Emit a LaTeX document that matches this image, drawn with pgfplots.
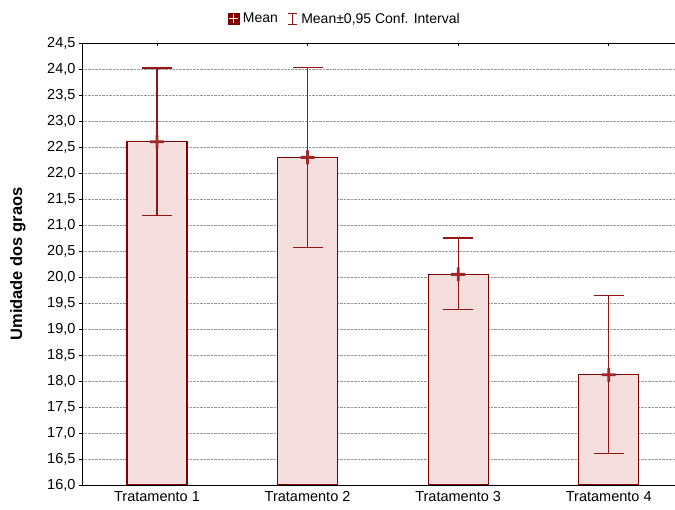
\documentclass[border=0pt]{standalone}
\usepackage{pgfplots}
\pgfplotsset{compat=1.18}
\usepackage{pgfplotstable}
\usepackage{fontspec}
\setmainfont{Liberation Sans}
\definecolor{dred}{RGB}{128,0,0}
\definecolor{ered}{RGB}{150,20,20}
\definecolor{mred}{RGB}{160,40,40}
\definecolor{bfill}{RGB}{245,222,222}
\pgfdeclareplotmark{thickplus}{%
  \pgfpathrectangle{\pgfpoint{-7pt}{-1.4pt}}{\pgfpoint{14pt}{2.8pt}}%
  \pgfpathrectangle{\pgfpoint{-1.4pt}{-7pt}}{\pgfpoint{2.8pt}{14pt}}%
  \pgfusepathqfill}
\pgfplotstableread{
x y ep em
1 22.60 1.42 1.42
2 22.30 1.73 1.73
3 20.05 0.70 0.68
4 18.12 1.53 1.52
}\datatable
\begin{document}
\begin{tikzpicture}
\begin{axis}[
  at={(0,0)}, anchor=south west,
  scale only axis,
  width=593pt, height=442pt,
  xmin=0.502, xmax=4.44,
  ymin=16, ymax=24.5,
  ytick={16,16.5,...,24.5},
  xtick={1,2,3,4},
  xticklabels={Tratamento 1,Tratamento 2,Tratamento 3,Tratamento 4},
  axis x line=box,
  axis y line=left,
  axis line style={line width=0.8pt, -},
  x tick style={line width=0.6pt, black},
  y tick style={line width=0.6pt, black},
  major tick length=3pt,
  xtick align=inside,
  ytick align=outside,
  ymajorgrids,
  grid style={densely dotted, gray!80, line width=0.6pt},
  tick label style={font=\fontsize{14.5}{16}\selectfont},
  /pgf/number format/assume math mode=true,
  yticklabel style={/pgf/number format/.cd, fixed, fixed zerofill, precision=1, use comma},
  xticklabel style={yshift=-3pt},
  ylabel={Umidade dos graos},
  every axis y label/.style={at={(axis description cs:-0.108,0.5)}, rotate=90, anchor=center,
     font=\fontsize{16.5}{18}\selectfont\bfseries},
  legend columns=2,
  legend style={at={(axis description cs:0.443,1.055)}, anchor=center, draw=none, fill=none,
    font=\fontsize{14}{16}\selectfont, /tikz/every even column/.append style={column sep=8pt}},
]
\addlegendimage{legend image code/.code={
  \fill[dred] (0.06cm,-0.19cm) rectangle (0.44cm,0.19cm);
  \draw[white, line width=1pt] (0.25cm,-0.15cm) -- (0.25cm,0.15cm) (0.10cm,0cm) -- (0.40cm,0cm);
}}
\addlegendentry{\hspace{2pt}Mean}
\addlegendimage{legend image code/.code={
  \draw[ered, line width=0.8pt] (0.25cm,-0.19cm) -- (0.25cm,0.19cm)
     (0.10cm,0.19cm) -- (0.40cm,0.19cm) (0.10cm,-0.19cm) -- (0.40cm,-0.19cm);
}}
\addlegendentry{\hspace{2pt}Mean±0,95 Conf. Interval}
\addplot[ybar, bar width=60pt, draw=dred, fill=bfill, line width=1.3pt,
  error bars/.cd, y dir=both, y explicit,
  error bar style={ered, line width=1.1pt},
  error mark options={ered, rotate=90, mark size=15pt, line width=1.1pt}]
  table[x=x, y=y, y error plus=ep, y error minus=em] {\datatable};
\addplot[only marks, mark=thickplus, mark options={fill=mred, draw=none}]
  table[x=x, y=y] {\datatable};
\end{axis}
\pgfresetboundingbox
\path[use as bounding box] (-82pt,-25pt) rectangle (593pt,485pt);
\end{tikzpicture}
\end{document}
